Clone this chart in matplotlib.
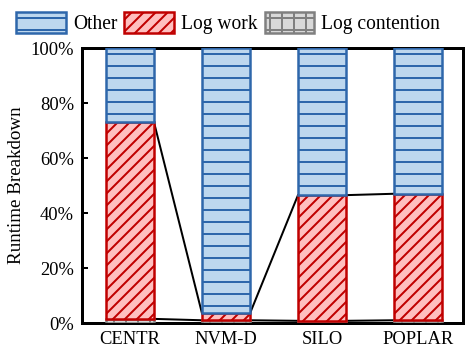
import numpy as np
import matplotlib.pyplot as plt

plt.rcParams['font.family'] = ['Liberation Serif', 'DejaVu Serif']
plt.rcParams['hatch.linewidth'] = 2.0

systems = ['CENTR', 'NVM-D', 'SILO', 'POPLAR']
log_contention = [1.5, 1.0, 0.8, 1.0]
log_work = [71.5, 2.5, 45.7, 46.0]
other = [100 - c - w for c, w in zip(log_contention, log_work)]

dpi = 72
fig = plt.figure(figsize=(473 / dpi, 357 / dpi), dpi=dpi)
ax = fig.add_axes([0.1734, 0.0952, 0.8056, 0.7703])

x = np.arange(len(systems))
width = 0.5

b1 = ax.bar(x, log_contention, width, color='#d9d9d9', edgecolor='#808080',
            hatch='+', linewidth=2.5, label='Log contention', zorder=3)
b2 = ax.bar(x, log_work, width, bottom=log_contention, color='#ffbfbf',
            edgecolor='#c00000', hatch='//', linewidth=2.5, label='Log work', zorder=3)
bottom2 = [c + w for c, w in zip(log_contention, log_work)]
b3 = ax.bar(x, other, width, bottom=bottom2, color='#bdd7ee', edgecolor='#2e67ab',
            hatch='-', linewidth=2.5, label='Other', zorder=3)

# connector lines between neighbouring bars
for level in (log_contention, bottom2):
    for i in range(len(systems) - 1):
        ax.plot([x[i] + width / 2, x[i + 1] - width / 2], [level[i], level[i + 1]],
                color='black', lw=2, zorder=2)

ax.set_xlim(-0.5, 3.47)
ax.set_ylim(0, 100)
ax.set_xticks(x)
ax.set_xticklabels(systems, fontsize=18.5)
ax.tick_params(axis='x', length=0, pad=8)
ax.set_yticks(np.arange(0, 101, 20))
ax.set_yticklabels([f'{v}%' for v in range(0, 101, 20)], fontsize=18.5)
ax.tick_params(axis='y', direction='in', length=6, width=2, pad=8)
ax.set_ylabel('Runtime Breakdown', fontsize=19, labelpad=6)
for s in ax.spines.values():
    s.set_linewidth(3)

fig.legend(handles=[b3, b2, b1], labels=['Other', 'Log work', 'Log contention'],
           loc='upper left', bbox_to_anchor=(0.01, 1.0), ncol=3, frameon=False,
           fontsize=19.5, handlelength=2.56, handleheight=1.28, columnspacing=0.35,
           handletextpad=0.35, borderaxespad=0.2)

fig.savefig('out.png', dpi=dpi)
